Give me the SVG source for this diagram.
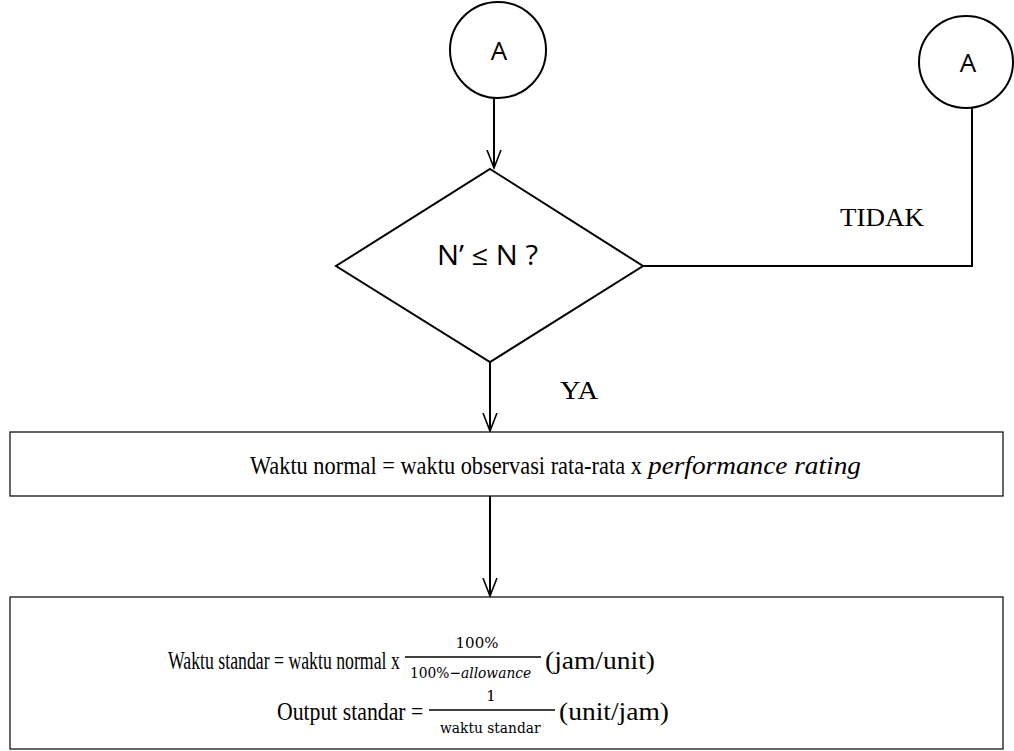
<svg xmlns="http://www.w3.org/2000/svg" width="1014" height="751" viewBox="0 0 1014 751">
<defs>
<marker id="arr" markerWidth="20" markerHeight="16" refX="18" refY="8" orient="auto" markerUnits="userSpaceOnUse" viewBox="0 0 20 16">
<path d="M0,1 L18,8 L0,15" fill="none" stroke="#000" stroke-width="1.6"/>
</marker>
<style>
.sh{fill:#fff;stroke:#000;stroke-width:2}
.bx{fill:#fff;stroke:#000;stroke-width:1.2}
.ln{fill:none;stroke:#000;stroke-width:2}
.sans{font-family:"Open Sans","Liberation Sans",sans-serif;fill:#000}
.ser{font-family:"Liberation Serif","Times New Roman",serif;fill:#000}
.m{font-family:"DejaVu Serif","Liberation Serif",serif;fill:#000}
</style>
</defs>
<g id="connectors">
<line class="ln" x1="494" y1="98" x2="494" y2="168" marker-end="url(#arr)"/>
<polyline class="ln" points="643,266 972,266 972,108"/>
<line class="ln" x1="490" y1="362" x2="490" y2="431" marker-end="url(#arr)"/>
<line class="ln" x1="490" y1="496" x2="490" y2="596" marker-end="url(#arr)"/>
<text class="ser" x="840" y="226" font-size="26" textLength="84" lengthAdjust="spacingAndGlyphs">TIDAK</text>
<text class="ser" x="560" y="399" font-size="26" textLength="38" lengthAdjust="spacingAndGlyphs">YA</text>
</g>
<g id="circle-a1">
<ellipse class="sh" cx="498" cy="50" rx="48" ry="48"/>
<text class="sans" x="499" y="60" font-size="26" text-anchor="middle">A</text>
</g>
<g id="circle-a2">
<ellipse class="sh" cx="966" cy="62" rx="47" ry="46"/>
<text class="sans" x="968" y="72" font-size="26" text-anchor="middle">A</text>
</g>
<g id="decision">
<polygon class="sh" points="490,169 643,266 490,362 336,266"/>
<text class="sans" x="437" y="265" font-size="27" textLength="101" lengthAdjust="spacingAndGlyphs">N’ ≤ N ?</text>
</g>
<g id="normal-time">
<rect class="bx" x="10" y="432" width="993" height="64"/>
<text class="ser" transform="translate(250,474) scale(0.86,1)" font-size="26">Waktu normal = waktu observasi rata-rata x</text>
<text class="ser" transform="translate(648,474) scale(1.05,1)" font-size="26" font-style="italic">performance rating</text>
</g>
<g id="standard-time">
<rect class="bx" x="10" y="597" width="993" height="152"/>
<text class="ser" transform="translate(168,669) scale(0.71,1)" font-size="25">Waktu standar = waktu normal x</text>
<text class="m" x="477" y="648" font-size="15" text-anchor="middle">100%</text>
<line x1="405" y1="657" x2="541" y2="657" stroke="#000" stroke-width="1.6"/>
<text class="m" transform="translate(410,678) scale(0.92,1)" font-size="15">100%−<tspan font-style="italic">allowance</tspan></text>
<text class="ser" transform="translate(545,669) scale(1.1,1)" font-size="25">(jam/unit)</text>
<text class="ser" transform="translate(277,720) scale(0.87,1)" font-size="25">Output standar =</text>
<text class="m" x="491" y="701" font-size="15" text-anchor="middle">1</text>
<line x1="429" y1="710" x2="555" y2="710" stroke="#000" stroke-width="1.6"/>
<text class="m" transform="translate(440,733) scale(0.92,1)" font-size="15">waktu standar</text>
<text class="ser" transform="translate(559,720) scale(1.1,1)" font-size="25">(unit/jam)</text>
</g>
</svg>
